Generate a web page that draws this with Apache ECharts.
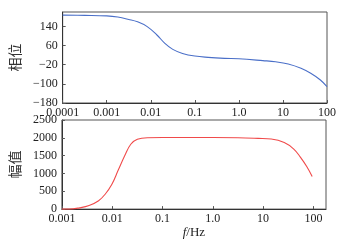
<!DOCTYPE html>
<html>
<head>
<meta charset="utf-8">
<script src="https://cdn.jsdelivr.net/npm/echarts@6/dist/echarts.min.js"></script>
<style>html,body{margin:0;padding:0;background:#fff}#c{width:348px;height:240px}</style>
</head>
<body>
<div id="c"></div>
<script>
// Phase (相位) vs frequency, top panel
var phaseFreq = [0.0001, 0.000316, 0.001, 0.00178, 0.00316, 0.005, 0.0083, 0.0138, 0.0209, 0.0316, 0.0525, 0.1, 0.2, 0.47, 1, 3.5, 6.8, 13.2, 25.7, 42.7, 70.8, 100];
var phaseVal  = [187, 186, 184, 179, 169, 159, 139, 104, 69, 44, 27, 16, 10.6, 6.5, 4.5, -3, -7.7, -17, -35, -56, -84, -112];
// Amplitude (幅值) vs frequency, bottom panel
var ampFreq = [0.001, 0.0014, 0.00224, 0.00347, 0.00537, 0.00724, 0.0098, 0.0132, 0.0178, 0.0234, 0.0316, 0.05, 0.1, 1, 3.16, 7.94, 14.5, 26.3, 40.7, 55, 74.1, 94.4];
var ampVal  = [0, 0, 35, 100, 236, 416, 688, 1095, 1503, 1820, 1957, 2003, 2008, 2008, 2003, 1984, 1965, 1867, 1685, 1459, 1187, 916];
// Tick labels
var phaseTicks = [-180, -100, -20, 60, 140];
var ampTicks = [0, 500, 1000, 1500, 2000, 2500];
var topXTicks = ['0.0001', '0.001', '0.01', '0.1', '1.0', '10', '100'];
var botXTicks = ['0.001', '0.01', '0.1', '1.0', '10', '100'];

function lg(v){ return Math.log10(v); }
function pairs(fs, vs){ return fs.map(function(f,i){ return [lg(f), vs[i]]; }); }
var topXVals = topXTicks.map(function(t){ return lg(parseFloat(t)); });
var botXVals = botXTicks.map(function(t){ return lg(parseFloat(t)); });
function xFmt(list, vals){
  return function(v){
    for (var i=0;i<vals.length;i++) if (Math.abs(vals[i]-v)<1e-6) return list[i];
    return '';
  };
}
function yFmt(v){ return String(Math.round(v)).replace('-', '\u2212'); }

var font = 'Liberation Serif';
var lbl = {fontFamily: font, fontSize: 12, color: '#222'};
var axLine = {show: true, onZero: false, lineStyle: {color: '#333', width: 1}};

var chart = echarts.init(document.getElementById('c'), null, {renderer: 'canvas'});
chart.setOption({
  animation: false,
  grid: [
    {left: 52, top: 12, width: 275, height: 91, show: true, borderColor: '#555', borderWidth: 1, containLabel: false},
    {left: 52, top: 120, width: 274, height: 92, show: true, borderColor: '#555', borderWidth: 1, containLabel: false}
  ],
  xAxis: [
    {type: 'value', gridIndex: 0, min: -4, max: 2,
     axisLine: axLine, splitLine: {show: false},
     axisTick: {inside: true, length: 3, customValues: topXVals, lineStyle: {color: '#555'}},
     axisLabel: Object.assign({margin: 4, customValues: topXVals, formatter: xFmt(topXTicks, topXVals)}, lbl)},
    {type: 'value', gridIndex: 1, min: -3, max: 2.25,
     axisLine: axLine, splitLine: {show: false},
     axisTick: {inside: true, length: 3, customValues: botXVals, lineStyle: {color: '#555'}},
     axisLabel: Object.assign({margin: 4, customValues: botXVals, formatter: xFmt(botXTicks, botXVals)}, lbl),
     name: '{i|f}/Hz', nameLocation: 'middle', nameGap: 12,
     nameTextStyle: {fontFamily: font, fontSize: 13, color: '#222',
       rich: {i: {fontFamily: font, fontStyle: 'italic', fontSize: 13, color: '#222'}}}}
  ],
  yAxis: [
    {type: 'value', gridIndex: 0, min: -180, max: 200,
     axisLine: axLine, splitLine: {show: false},
     axisTick: {inside: true, length: 3, customValues: phaseTicks, lineStyle: {color: '#555'}},
     axisLabel: Object.assign({margin: 5, customValues: phaseTicks, formatter: yFmt}, lbl),
     name: '相位', nameLocation: 'middle', nameRotate: 90, nameGap: 32,
     nameTextStyle: {fontFamily: 'Noto Sans CJK SC', fontSize: 14, color: '#333'}},
    {type: 'value', gridIndex: 1, min: 0, max: 2500,
     axisLine: axLine, splitLine: {show: false},
     axisTick: {inside: true, length: 3, customValues: ampTicks, lineStyle: {color: '#555'}},
     axisLabel: Object.assign({margin: 5, customValues: ampTicks, formatter: yFmt}, lbl),
     name: '幅值', nameLocation: 'middle', nameRotate: 90, nameGap: 32,
     nameTextStyle: {fontFamily: 'Noto Sans CJK SC', fontSize: 14, color: '#333'}}
  ],
  series: [
    {type: 'line', xAxisIndex: 0, yAxisIndex: 0, data: pairs(phaseFreq, phaseVal),
     smooth: 0.4, showSymbol: false, lineStyle: {color: '#4a6fc8', width: 1.1}},
    {type: 'line', xAxisIndex: 1, yAxisIndex: 1, data: pairs(ampFreq, ampVal),
     smooth: 0.4, showSymbol: false, lineStyle: {color: '#f04a4a', width: 1.1}}
  ]
});
</script>
</body>
</html>
